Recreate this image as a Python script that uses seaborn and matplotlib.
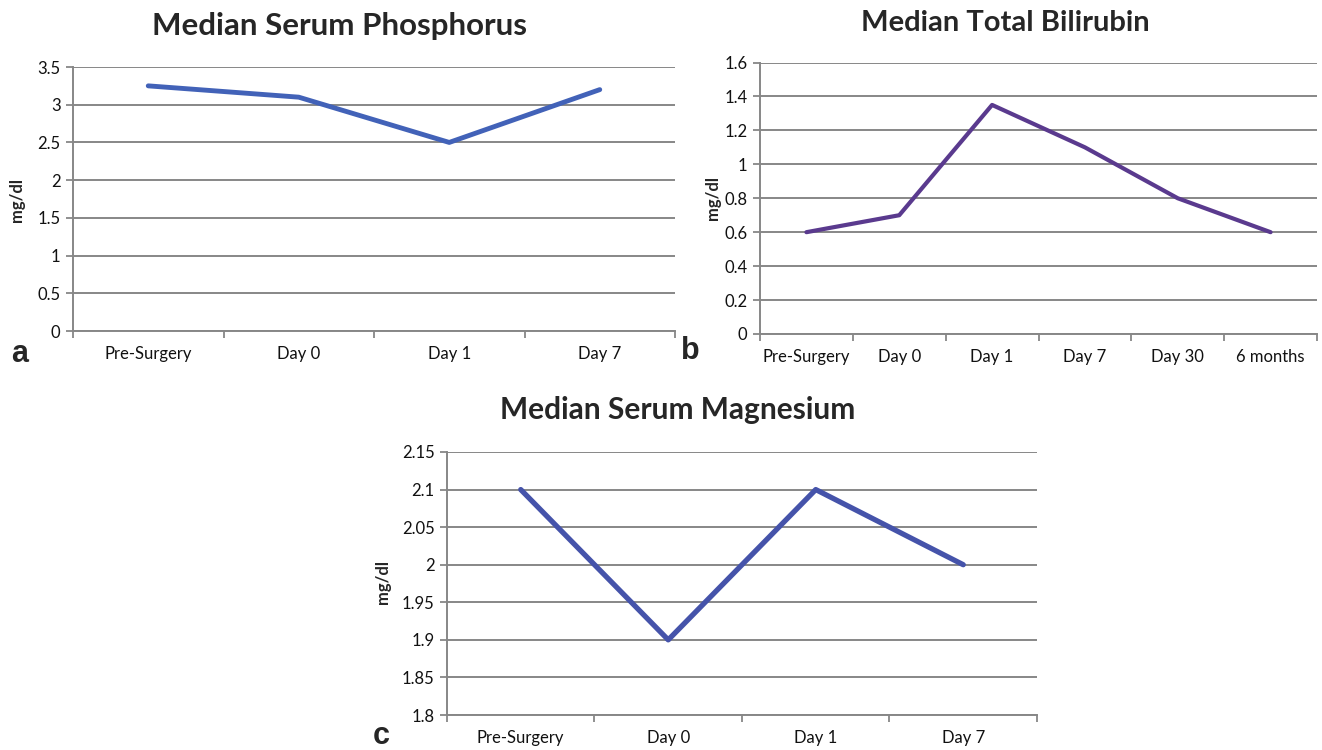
import matplotlib
matplotlib.use("Agg")
import matplotlib.pyplot as plt
import matplotlib.ticker as mticker
import numpy as np
import pandas as pd
import seaborn as sns

# data
phos_days = ["Pre-Surgery", "Day 0", "Day 1", "Day 7"]
phos_vals = [3.25, 3.1, 2.5, 3.2]

bili_days = ["Pre-Surgery", "Day 0", "Day 1", "Day 7", "Day 30", "6 months"]
bili_vals = [0.6, 0.7, 1.35, 1.1, 0.8, 0.6]

mag_days = ["Pre-Surgery", "Day 0", "Day 1", "Day 7"]
mag_vals = [2.1, 1.9, 2.1, 2.0]

sns.set_theme(style="white")
plt.rcParams["font.family"] = ["Lato", "DejaVu Sans"]

grey = "#878787"
W, H = 1322, 750
fig = plt.figure(figsize=(W / 100, H / 100), dpi=100)


def box(x0, x1, ytop, ybot):
    return [x0 / W, (H - ybot) / H, (x1 - x0) / W, (ybot - ytop) / H]


def panel(rect, days, vals, ymin, ymax, step, color, lw, label_pad):
    ax = fig.add_axes(rect)
    df = pd.DataFrame({"day": days, "val": vals})
    sns.lineplot(data=df, x="day", y="val", sort=False, color=color, lw=lw, ax=ax)
    n = len(days)
    ax.set_xlim(-0.5, n - 0.5)
    ax.set_ylim(ymin, ymax)
    yt = np.arange(ymin, ymax + step / 2, step)
    ax.set_yticks(yt)
    ax.yaxis.set_major_formatter(mticker.FuncFormatter(lambda v, p: "%g" % round(v, 4)))
    ax.set_xticks(range(n))
    ax.set_xticklabels(days)
    ax.set_xticks(np.arange(-0.5, n), minor=True)
    ax.tick_params(axis="x", which="major", length=0, labelsize=12, pad=label_pad)
    ax.tick_params(axis="x", which="minor", length=5, width=1.3, color=grey, direction="out", bottom=True)
    ax.tick_params(axis="y", length=5, width=1.3, color=grey, direction="out", left=True,
                   labelsize=12, pad=4)
    for t in ax.get_xticklabels() + ax.get_yticklabels():
        t.set_color("#111111")
    ax.grid(axis="y", color=grey, lw=1.4)
    ax.set_axisbelow(True)
    for s in ["top", "right"]:
        ax.spines[s].set_visible(False)
    for s in ["left", "bottom"]:
        ax.spines[s].set_color(grey)
        ax.spines[s].set_linewidth(1.4)
    ax.set_xlabel("")
    ax.set_ylabel("")
    for ln in ax.lines:
        ln.set_clip_on(False)
    return ax


ax_a = panel(box(73, 675, 67, 331), phos_days, phos_vals, 0, 3.5, 0.5, "#4262b8", 3.5, 11)
ax_b = panel(box(760, 1317, 62.5, 334), bili_days, bili_vals, 0, 1.6, 0.2, "#5a3a8e", 3.0, 11)
ax_c = panel(box(447, 1037, 452, 715), mag_days, mag_vals, 1.8, 2.15, 0.05, "#4553aa", 3.8, 11)

# y labels
fig.text(17 / W, 1 - 200 / H, "mg/dl", rotation=90, ha="center", va="center",
         fontsize=12, fontweight="bold")
fig.text(713 / W, 1 - 198 / H, "mg/dl", rotation=90, ha="center", va="center",
         fontsize=12, fontweight="bold")
fig.text(383 / W, 1 - 582 / H, "mg/dl", rotation=90, ha="center", va="center",
         fontsize=12, fontweight="bold")

# titles
fig.text(339 / W, 1 - 26 / H, "Median Serum Phosphorus", ha="center", va="center",
         fontsize=22.5, fontweight="bold")
fig.text(1005 / W, 1 - 23 / H, "Median Total Bilirubin", ha="center", va="center",
         fontsize=21, fontweight="bold")
fig.text(678 / W, 1 - 410 / H, "Median Serum Magnesium", ha="center", va="center",
         fontsize=21.5, fontweight="bold")

# panel letters
lab_font = ["Liberation Sans", "DejaVu Sans"]
fig.text(20 / W, 1 - 354 / H, "a", ha="center", va="center", fontsize=22,
         fontweight="bold", family=lab_font)
fig.text(690 / W, 1 - 351 / H, "b", ha="center", va="center", fontsize=22,
         fontweight="bold", family=lab_font)
fig.text(381 / W, 1 - 736 / H, "c", ha="center", va="center", fontsize=22,
         fontweight="bold", family=lab_font)

fig.savefig("out.png", dpi=100)
